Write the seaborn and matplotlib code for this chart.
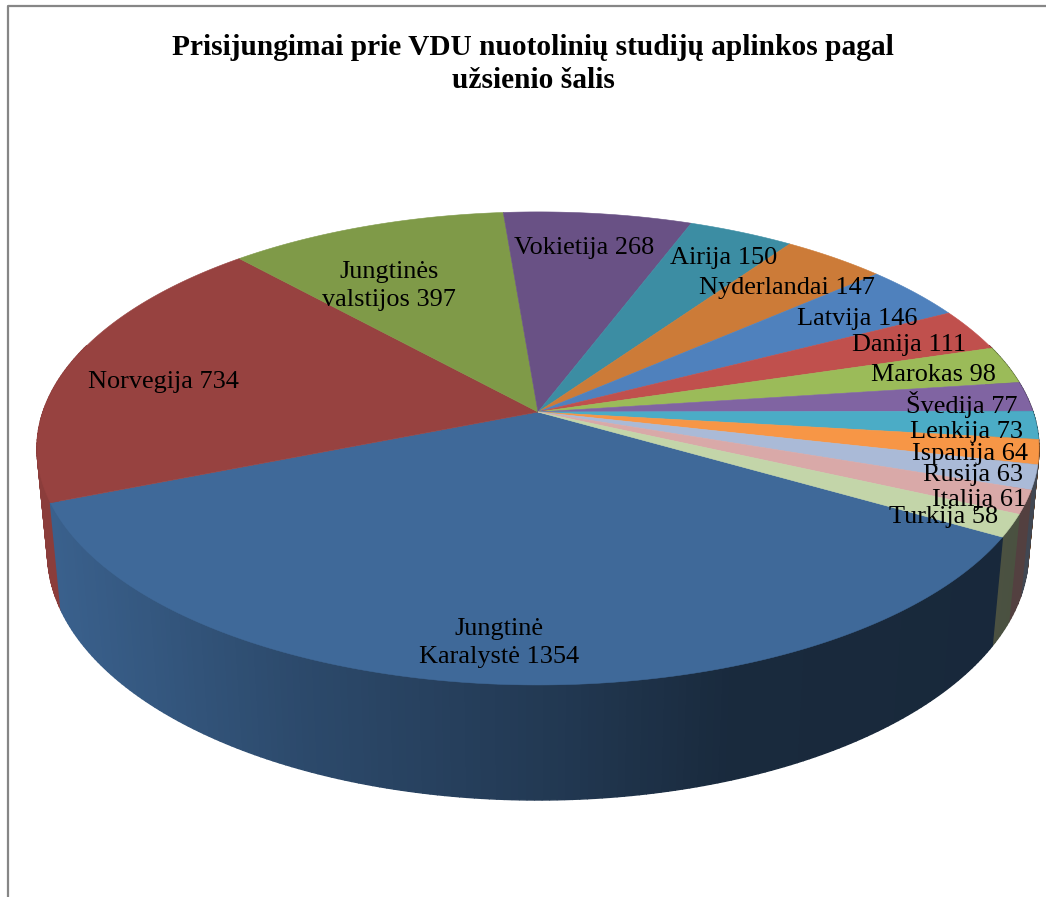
import numpy as np
import seaborn as sns
import matplotlib
matplotlib.use('Agg')
import matplotlib.pyplot as plt
from matplotlib.path import Path
from matplotlib.transforms import Transform, Affine2D

# Data
countries = ['Jungtinė\nKaralystė', 'Norvegija', 'Jungtinės\nvalstijos', 'Vokietija', 'Airija',
             'Nyderlandai', 'Latvija', 'Danija', 'Marokas', 'Švedija',
             'Lenkija', 'Ispanija', 'Rusija', 'Italija', 'Turkija']
logins = [1354, 734, 397, 268, 150, 147, 146, 111, 98, 77, 73, 64, 63, 61, 58]
slice_colors = ['#3f6999', '#974240', '#7f9a48', '#695185', '#3c8da3',
                '#cc7b38', '#4f81bd', '#c0504d', '#9bbb59', '#8064a2',
                '#4bacc6', '#f79646', '#aabad7', '#d9a9a8', '#c3d5a9']
title = 'Prisijungimai prie VDU nuotolinių studijų aplinkos pagal\nužsienio šalis'

# Label centres in pixels, same order as countries
label_xy = [(499, 643), (163, 382), (389, 286), (584, 248), (724, 258),
            (787, 288), (857, 319), (909, 345), (933, 375), (962, 405),
            (966, 432), (970, 454), (973, 475), (979, 500), (944, 517)]

# Camera for the tilted pie, fitted to the picture
CX, CY = 538, 412
A, B = 495, 230.9
K = 0.154
M = 0.021
C = 105.5


def project(u, v, z=0.0):
    w = 1 + K * v + M * z
    return CX + A * u / w, CY + (-B * v + C * z) / w


class TiltTransform(Transform):
    input_dims = 2
    output_dims = 2
    is_separable = False
    has_inverse = False

    def transform_non_affine(self, values):
        x, y = project(values[:, 0], values[:, 1])
        return np.column_stack([x, y])

    def transform_path_non_affine(self, path):
        # flatten at a large scale so the arc stays smooth
        big = path.transformed(Affine2D().scale(5000))
        poly = big.to_polygons(closed_only=False)[0] / 5000
        return Path(self.transform_non_affine(poly))


def wall_shade(x):
    return np.interp(x, [50, 300, 540, 730, 1040], [0.92, 0.70, 0.55, 0.40, 0.38])


sns.set_theme(style='white')
plt.rcParams['font.family'] = ['Liberation Serif', 'DejaVu Serif']
palette = sns.color_palette(slice_colors)

fig = plt.figure(figsize=(10.46, 8.97), dpi=100, facecolor='white')
ax = fig.add_axes([0, 0, 1, 1])

wedges, _ = ax.pie(logins, colors=palette, startangle=-30, counterclock=False,
                   wedgeprops={'linewidth': 0.4})
tilt = TiltTransform()
for wedge, color in zip(wedges, palette):
    wedge.set_transform(tilt + ax.transData)
    wedge.set_edgecolor(color)
    wedge.set_clip_on(False)
    wedge.set_zorder(3)

ax.set_aspect('auto')
ax.set_xlim(0, 1046)
ax.set_ylim(897, 0)
ax.axis('off')

# Side wall, back to front
quads = []
for wedge, color in zip(wedges, palette):
    n = max(2, int((wedge.theta2 - wedge.theta1) / 0.75))
    t = np.radians(np.linspace(wedge.theta1, wedge.theta2, n + 1))
    for t0, t1 in zip(t[:-1], t[1:]):
        vmid = np.sin((t0 + t1) / 2)
        if vmid < 0.3:
            quads.append((vmid, t0, t1, color))
quads.sort(key=lambda q: -q[0])
for vmid, t0, t1, color in quads:
    x0, y0 = project(np.cos(t0), np.sin(t0))
    x1, y1 = project(np.cos(t1), np.sin(t1))
    x2, y2 = project(np.cos(t1), np.sin(t1), 1.0)
    x3, y3 = project(np.cos(t0), np.sin(t0), 1.0)
    f = wall_shade((x0 + x1) / 2)
    shade = tuple(c * f for c in color)
    ax.fill([x0, x1, x2, x3], [y0, y1, y2, y3], color=shade, lw=1.0, zorder=2, clip_on=False)

# Labels
for name, value, (x, y) in zip(countries, logins, label_xy):
    ax.text(x, y, f'{name} {value}', ha='center', va='center', fontsize=18.9,
            color='black', linespacing=1.38, zorder=5)

ax.text(533, 64, title, ha='center', va='center', fontsize=21.2, fontweight='bold',
        color='black', linespacing=1.32, zorder=5)

# Chart frame, only the top and left edges are in the picture
ax.plot([7.5, 7.5, 1046], [897, 6.5, 6.5], color='#868686', lw=1.6, zorder=1, clip_on=False)

fig.savefig('out.png', dpi=100, facecolor='white')
